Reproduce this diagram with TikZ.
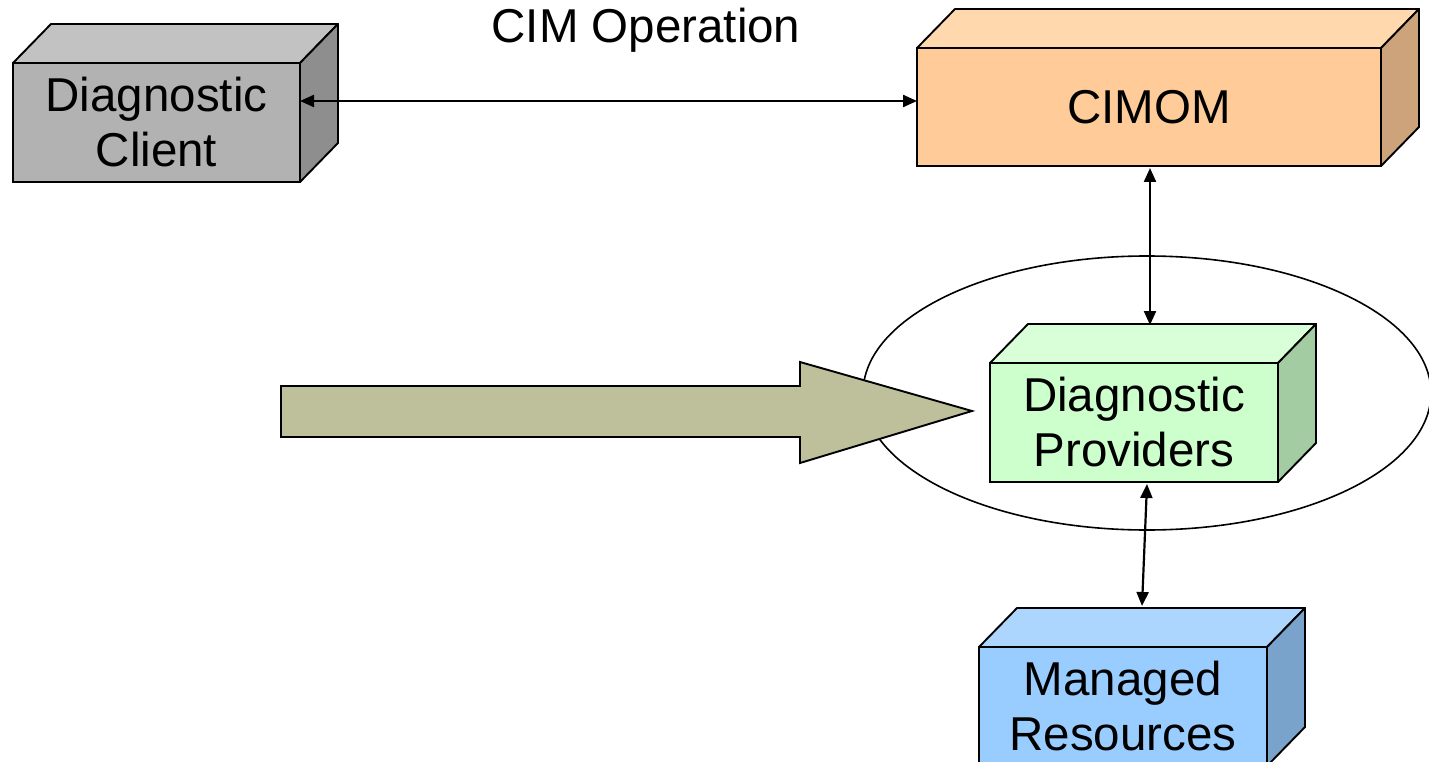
\documentclass[tikz,border=0pt]{standalone}
\usepackage{fontspec}
\setmainfont{Liberation Sans}
\usetikzlibrary{arrows.meta,calc}
\definecolor{clientfront}{HTML}{B2B2B2}
\definecolor{clienttop}{HTML}{C2C2C2}
\definecolor{clientside}{HTML}{8E8E8E}
\definecolor{cimomfront}{HTML}{FFCC99}
\definecolor{cimomtop}{HTML}{FFD8AE}
\definecolor{cimomside}{HTML}{CCA37A}
\definecolor{provfront}{HTML}{CCFFCC}
\definecolor{provtop}{HTML}{D8FFD8}
\definecolor{provside}{HTML}{A3CCA3}
\definecolor{mrfront}{HTML}{99CCFF}
\definecolor{mrtop}{HTML}{ADD6FF}
\definecolor{mrside}{HTML}{7AA3CC}
\definecolor{bigarrow}{HTML}{BEC09C}
\newcommand\boxfaces[3]{%
  \draw[facestyle,fill=#2] (#1.north west) -- ++(38,-39) -- ($(#1.north east)+(38,-39)$) -- (#1.north east) -- cycle;
  \draw[facestyle,fill=#3] (#1.north east) -- ++(38,-39) -- ($(#1.south east)+(38,-39)$) -- (#1.south east) -- cycle;}
\begin{document}
\begin{tikzpicture}[x=1pt,y=-1pt,
  facestyle/.style={line width=1.9pt,line join=round},
  frontbox/.style={draw,line width=1.9pt,inner sep=0pt,outer sep=0pt,align=center,
    font=\fontsize{47.5}{55}\selectfont},
  link/.style={line width=2.2pt,{Triangle[length=14pt,width=12pt]}-{Triangle[length=14pt,width=12pt]}},
  lbl/.style={font=\fontsize{47.5}{55}\selectfont}]
\fill[white] (0,0) rectangle (1429,762);
\useasboundingbox (0,0) rectangle (1429,762);

% ellipse around providers
\draw[line width=1.6pt] (1147,393) ellipse [x radius=284, y radius=137];

% big arrow
\draw[line width=1.9pt,line join=miter,fill=bigarrow] (281,386) -- (800,386) -- (800,362) -- (972,411) -- (800,463) -- (800,437) -- (281,437) -- cycle;

% boxes
\node[frontbox,fill=clientfront,minimum width=287pt,minimum height=119pt] (client) at (156.5,122.5) {Diagnostic\\Client};
\boxfaces{client}{clienttop}{clientside}

\node[frontbox,fill=cimomfront,minimum width=464pt,minimum height=118pt] (cimom) at (1149,107) {\raisebox{-2pt}{CIMOM}};
\boxfaces{cimom}{cimomtop}{cimomside}

\node[frontbox,fill=provfront,minimum width=288pt,minimum height=119pt] (prov) at (1134,422.5) {Diagnostic\\Providers};
\boxfaces{prov}{provtop}{provside}

\node[frontbox,fill=mrfront,minimum width=288pt,minimum height=119pt] (mr) at (1123,706.5) {Managed\\Resources};
\boxfaces{mr}{mrtop}{mrside}

% label
\node[lbl] (op) at (646,30) {CIM Operation};

% connectors
\coordinate (c1) at ($(client.east)+(0,-21.5)$);
\draw[link] (c1) -- (cimom.west |- c1);
\coordinate (c2) at ($(cimom.south)+(1,2)$);
\coordinate (c3) at ($(prov.north)+(16,-38)$);
\draw[link] (c2) -- (c3);
\coordinate (c4) at ($(prov.south)+(13,2)$);
\coordinate (c5) at ($(mr.north)+(19,-41)$);
\draw[link] (c4) -- (c5);
\end{tikzpicture}
\end{document}
